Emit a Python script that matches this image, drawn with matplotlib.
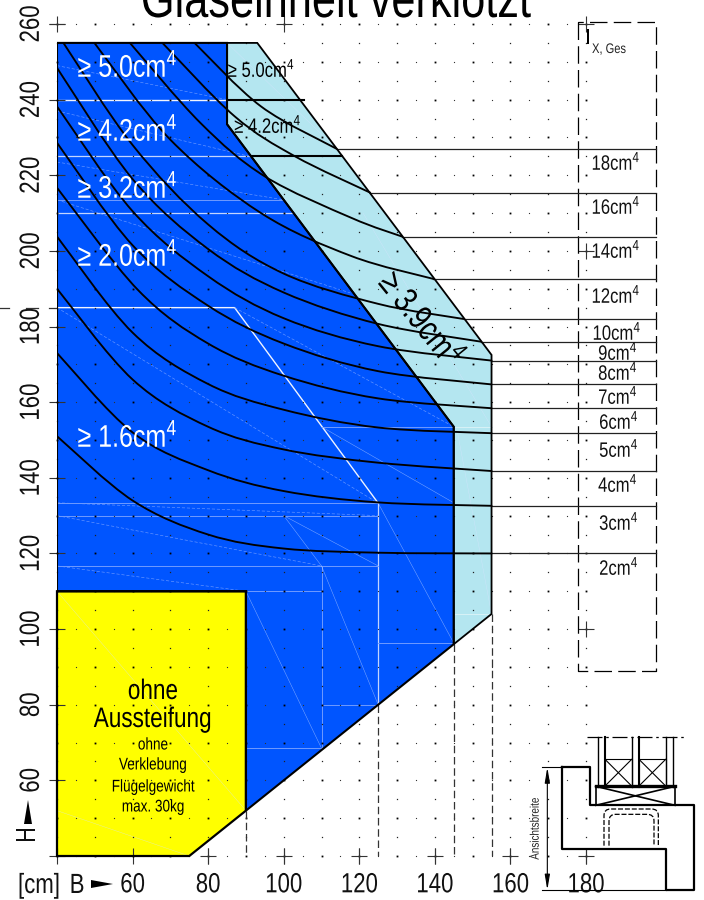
import matplotlib
matplotlib.use("Agg")
import matplotlib.pyplot as plt
import numpy as np
from matplotlib.path import Path
from matplotlib.patches import PathPatch, Polygon
from matplotlib.patheffects import AbstractPathEffect
from matplotlib.transforms import Affine2D

plt.rcParams["font.family"] = ["Liberation Sans", "DejaVu Sans"]
plt.rcParams["mathtext.fontset"] = "custom"
plt.rcParams["mathtext.rm"] = "Liberation Sans"
plt.rcParams["mathtext.default"] = "regular"

BLUE, LIGHT, YEL = "#0055ff", "#b4e6f0", "#ffff00"

x_ticks = [40, 60, 80, 100, 120, 140, 160, 180]
x_tick_labels = ["", "60", "80", "100", "120", "140", "160", "180"]
y_ticks = [40, 60, 80, 100, 120, 140, 160, 180, 200, 220, 240, 260]
y_tick_labels = ["", "60", "80", "100", "120", "140", "160", "180", "200", "220", "240", "260"]

yellow_area = [(40, 40), (75, 40), (90, 52), (90, 110), (40, 110)]
blue_area = [(40, 110), (90, 110), (90, 52), (145, 96), (145, 153.5), (85, 233.5), (85, 255), (40, 255)]
light_area = [(85, 255), (93, 255), (155, 172.5), (155, 104), (145, 96), (145, 153.5), (85, 233.5)]
step_lines = [[(85, 240), (105.5, 240)], [(91.4, 225), (115.4, 225)]]

curve_2 = [(40, 151), (60, 134), (80, 125), (100, 121.3), (125, 120.2), (155, 120)]
curve_3 = [(40, 173), (60, 152), (80, 142), (100, 136.5), (125, 133.5), (155, 132.6)]
curve_4 = [(40, 190), (60, 166), (80, 153.5), (100, 147.5), (125, 144), (155, 141.8)]
curve_5 = [(40, 203.8), (60, 178.4), (80, 164.8), (100, 158), (125, 153.3), (155, 151.8)]
curve_6 = [(40, 216.7), (61.4, 189.7), (80, 175.5), (100, 167), (125, 161), (155, 158.4)]
curve_7 = [(40, 228.6), (60, 201.5), (80, 185.5), (100, 175.5), (125, 168.2), (155, 164.7)]
curve_8 = [(40, 238.2), (60, 210.5), (80, 193.3), (100, 182.2), (125, 174.8), (155, 171)]
curve_9 = [(40, 248.4), (60, 219), (80, 200.5), (100, 189), (125, 180.7), (152.2, 176)]
curve_10 = [(41.7, 255), (60, 228), (80, 207), (100, 194), (125, 186), (147.6, 182)]
curve_12 = [(49.9, 255), (70, 229.4), (94, 210), (118, 198.6), (139.6, 192.6)]
curve_14 = [(59.3, 255), (78, 233.8), (95, 219.7), (118, 208.7), (131.3, 203.8)]
curve_16 = [(67.9, 255), (87, 235.6), (103, 225), (122.9, 215.4)]
curve_18 = [(76.4, 255), (94, 238.2), (114, 227)]
curves = [curve_2, curve_3, curve_4, curve_5, curve_6, curve_7, curve_8, curve_9, curve_10, curve_12, curve_14, curve_16, curve_18]

# label text and its pixel centre in the IX column
ix_labels = ["2", "3", "4", "5", "6", "7", "8", "9", "10", "12", "14", "16", "18"]
ix_label_px = [(619, 568), (619, 523), (618, 485), (619, 450), (619, 422), (618, 397), (618, 373), (618, 353), (617, 333), (616, 296), (616, 251), (616, 207), (616, 163)]

white_lines = [[(40, 240), (85, 240)], [(40, 185), (87, 185), (125, 133.3)]]
soft_lines = [[(40, 225), (91.4, 225)], [(40, 210), (102.6, 210)], [(125, 133.3), (125, 80)]]
pale_lines = [[(40, 133.4), (125, 133.4)], [(40, 130), (125, 130)], [(40, 116.7), (125, 116.7)],
              [(110, 116.7), (110, 68.5)], [(90, 68.5), (110, 68.5)], [(110, 80), (125, 80)], [(125, 96.3), (145, 96.3)],
              [(90, 110), (110, 110)], [(40, 213.5), (100, 213.5)], [(110, 153.5), (145, 153.5)]]
light_pale = [[(145, 153.5), (155, 153.5)], [(145, 104), (155, 104)]]
thin_lines = [[(125, 133.3), (145, 96.3)], [(100, 130), (110, 116.7)], [(100, 130), (125, 116.7)], [(110, 116.7), (125, 80)],
              [(90, 110), (110, 68.5)], [(110, 153.5), (145, 133.4)], [(146, 152), (155, 104)], [(85, 255), (114, 227)],
              [(121, 210), (155, 153.5)], [(40, 110), (90, 52)], [(40, 52), (75, 40)]]
dashed_thin = [[(40, 130), (110, 116.7)], [(40, 116.7), (90, 110)], [(40, 133.4), (125, 130)], [(87, 185), (145, 153.5)],
               [(40, 185), (125, 133.3)], [(40, 249), (85, 240)], [(40, 237), (91, 225)], [(40, 223.5), (100, 213.5)],
               [(40, 213.5), (117.6, 188.9)]]
drop_x = [90, 125, 145, 155]
drop_y = [52, 80, 96, 104]


class Squeeze(AbstractPathEffect):
    # the reference type is a narrow grotesque; no such font here, so condense along the baseline
    def __init__(self, sx):
        super().__init__()
        self.sx = sx

    def draw_path(self, renderer, gc, tpath, affine, rgbFace=None):
        e = tpath.get_extents()
        cx = (e.x0 + e.x1) / 2
        t = Affine2D().translate(-cx, 0).scale(self.sx, 1).translate(cx, 0) + affine
        renderer.draw_path(gc, tpath, t, rgbFace)


fig = plt.figure(figsize=(7.04, 9), dpi=100)
ax = fig.add_axes([57 / 704, 1 - 856 / 900, (586 - 57) / 704, (856 - 24) / 900])
ax.set_xlim(40, 180); ax.set_ylim(40, 260)
for s in ax.spines.values():
    s.set_visible(False)
ax.patch.set_alpha(0)
ax.set_xticks(x_ticks); ax.set_xticklabels(x_tick_labels, fontsize=20)
ax.set_yticks(y_ticks); ax.set_yticklabels(y_tick_labels, fontsize=20, rotation=90, va="center")
ax.tick_params(axis="both", direction="inout", length=11.5, width=0.8, color="#333333", labelcolor="#111111")
ax.tick_params(axis="x", pad=6); ax.tick_params(axis="y", pad=3)

# pixel helpers: reference pixels and the section drawing
pxt = Affine2D().scale(1 / 704, -1 / 900).translate(0, 1) + fig.transFigure
sect = Affine2D().scale(1 / 3).translate(530, 725) + pxt

ax.add_patch(Polygon(blue_area, closed=True, fc=BLUE, ec="none", zorder=1))
ax.add_patch(Polygon(light_area, closed=True, fc=LIGHT, ec="none", zorder=1))
ax.add_patch(Polygon(yellow_area, closed=True, fc=YEL, ec="none", zorder=1))


def xy(seg):
    a = np.array(seg)
    return a[:, 0], a[:, 1]


for seg in white_lines:
    ax.plot(*xy(seg), color="#f0f4ff", lw=1.0, zorder=1.5, clip_on=False)
for seg in soft_lines:
    ax.plot(*xy(seg), color="#c3d5ff", lw=0.9, zorder=1.5)
for seg in pale_lines:
    ax.plot(*xy(seg), color="#6f9bff", lw=0.7, zorder=1.5)
for seg in light_pale:
    ax.plot(*xy(seg), color="#d8f2f7", lw=0.7, zorder=1.5)
for seg in thin_lines:
    ax.plot(*xy(seg), color="#d8e4ff", lw=0.35, alpha=0.6, zorder=1.5)
for seg in dashed_thin:
    ax.plot(*xy(seg), color="#6a98ff", lw=0.45, ls=(0, (5, 3)), zorder=1.5)

# dot raster
gx5, gy10 = np.meshgrid(np.arange(45, 181, 10), np.arange(40, 261, 10))
ax.plot(gx5.ravel(), gy10.ravel(), ls="", marker="s", ms=0.8, mew=0, color="#333333", zorder=2, clip_on=False)
gx10, gy10b = np.meshgrid(np.arange(40, 181, 10), np.arange(40, 261, 10))
ax.plot(gx10.ravel(), gy10b.ravel(), ls="", marker="s", ms=1.3, mew=0, color="k", zorder=2, clip_on=False)
gx, gy5 = np.meshgrid(np.arange(40, 181, 10), np.arange(45, 256, 10))
ax.plot(gx.ravel(), gy5.ravel(), ls="", marker="s", ms=0.9, mew=0, color="#222222", zorder=2, clip_on=False)

# crosses on the raster
cross_x = [40, 100, 180, 180, 180, 80, 100, 120, 140, 160, 180]
cross_y = [260, 260, 260, 200, 100, 40, 40, 40, 40, 40, 40]
ax.plot(cross_x, cross_y, ls="", marker="+", ms=11.5, mew=0.8, color="#333333", zorder=3, clip_on=False)


def smooth_path(pts):
    # Catmull-Rom through the read points, handed to Path as Bezier segments
    p = np.array(pts, float)
    q = np.vstack([p[0], p, p[-1]])
    v, c = [tuple(p[0])], [Path.MOVETO]
    for i in range(1, len(q) - 2):
        v += [tuple(q[i] + (q[i + 1] - q[i - 1]) / 6), tuple(q[i + 1] - (q[i + 2] - q[i]) / 6), tuple(q[i + 1])]
        c += [Path.CURVE4] * 3
    return Path(v, c)


for pts in curves:
    ax.add_patch(PathPatch(smooth_path(pts), fc="none", ec="k", lw=1.35, zorder=4, capstyle="round"))
    ax.plot([pts[-1][0], 198.4], [pts[-1][1], pts[-1][1]], color="#222222", lw=0.9, zorder=3.5, clip_on=False)

# outlines
ax.add_patch(Polygon(light_area, closed=True, fc="none", ec="k", lw=1.3, zorder=5, joinstyle="miter"))
ax.add_patch(Polygon(blue_area, closed=True, fc="none", ec="k", lw=1.5, zorder=5, joinstyle="miter"))
ax.add_patch(Polygon(yellow_area, closed=True, fc="none", ec="k", lw=1.6, zorder=5, joinstyle="miter", clip_on=False))
for seg in step_lines:
    ax.plot(*xy(seg), color="k", lw=1.5, zorder=5)
for x, y in zip(drop_x, drop_y):
    ax.plot([x, x], [y, 40], color="#333333", lw=0.9, ls=(0, (6, 3)), zorder=3)

# stray tick at 185 on the left
for a, b in [(0, 9), (26, 38), (49, 57)]:
    ax.plot([a, b], [308, 308], color="#333333", lw=0.9, transform=pxt, clip_on=False, zorder=3)

# IX box
ix_left, ix_right, ix_top, ix_bottom = 177.9, 198.4, 260.5, 89
ax.plot([ix_left, ix_left, ix_right, ix_right, ix_left], [ix_top, ix_bottom, ix_bottom, ix_top, ix_top],
        color="k", lw=0.9, ls=(0, (14, 5)), clip_on=False, zorder=3)

# texts
fig.text(335.5, 17, "Glaseinheit verklotzt", fontsize=39, ha="center", va="baseline", color="k", transform=pxt)
for t, y in [("5.0", 77), ("4.2", 141), ("3.2", 198), ("2.0", 266), ("1.6", 447)]:
    ax.text(127.5, y, "≥ " + t + "cm$^{4}$", color="w", fontsize=22.5, ha="center", va="baseline", transform=pxt, zorder=6)
ax.text(261.5, 77, "≥ 5.0cm$^{4}$", color="k", fontsize=15, ha="center", va="baseline", transform=pxt, zorder=6)
ax.text(268, 133, "≥ 4.2cm$^{4}$", color="k", fontsize=15, ha="center", va="baseline", transform=pxt, zorder=6)
ax.text(420, 320, "≥ 3.9cm$^{4}$", color="k", fontsize=25, ha="center", va="center", rotation=-51, rotation_mode="anchor", transform=pxt, zorder=6)
for t, (px, py) in zip(ix_labels, ix_label_px):
    ax.text(px, py, t + "cm$^{4}$", color="#111111", fontsize=15, ha="center", va="center", transform=pxt, zorder=6)
ax.text(588, 38, "I", fontsize=15, ha="center", va="center", transform=pxt, zorder=6)
ax.text(609, 49, "X, Ges", fontsize=10, ha="center", va="center", color="#222222", transform=pxt, zorder=6)

ax.text(153, 692, "ohne", fontsize=20.3, ha="center", va="center", transform=pxt, zorder=6)
ax.text(153, 720, "Aussteifung", fontsize=20.3, ha="center", va="center", transform=pxt, zorder=6)
for t, y in [("ohne", 745), ("Verklebung", 765), ("Flügelgewicht", 787), ("max. 30kg", 807)]:
    ax.text(153, y, t, fontsize=12.2, ha="center", va="center", transform=pxt, zorder=6)

ax.text(39, 886, "[cm]", fontsize=20, ha="center", va="center", color="#111111", transform=pxt)
ax.text(77, 886, "B", fontsize=20, ha="center", va="center", color="#111111", transform=pxt)
ax.text(28, 835, "H", fontsize=20, ha="center", va="center", rotation=90, color="#111111", transform=pxt)
ax.add_patch(Polygon([(91, 880), (113, 884), (91, 888)], closed=True, fc="k", ec="none", transform=pxt, clip_on=False))
ax.add_patch(Polygon([(24, 824), (28, 800), (32, 824)], closed=True, fc="k", ec="none", transform=pxt, clip_on=False))

# window section drawing, coordinates on a 3x grid
LW = 1.6
def sline(xs, ys, lw=LW, **kw):
    ax.plot(xs, ys, color="k", lw=lw, transform=sect, clip_on=False, zorder=7, **kw)

sline([95, 180, 180, 492, 492, 407, 407, 95, 95], [127, 127, 241, 241, 495, 495, 373, 373, 127])
sline([35, 95], [127, 127], lw=0.8)
sline([35, 407], [495, 495], lw=0.8)
ax.annotate("", xy=(52, 127), xytext=(52, 495), xycoords=sect, textcoords=sect, annotation_clip=False, zorder=7,
            arrowprops=dict(arrowstyle="<|-|>,head_length=0.9,head_width=0.15", color="k", lw=0.8, shrinkA=0, shrinkB=0))
ax.text(17, 310, "Ansichtsbreite", fontsize=8.9, rotation=90, ha="center", va="center", color="#222222", transform=sect, zorder=7)
sline([170, 463], [35, 35], lw=0.9, ls=(0, (12, 3, 2, 3)))
for x, w in [(203, 1.0), (225, 1.5), (305, 1.0), (327, 1.5), (407, 1.0), (430, 1.0)]:
    sline([x, x], [35, 185], lw=w)
for x0, x1 in [(225, 305), (327, 407)]:
    sline([x0, x1, x1, x0, x0], [103, 103, 183, 183, 103], lw=0.8)
    sline([x0, x1], [103, 183], lw=0.8)
    sline([x0, x1], [183, 103], lw=0.8)
sline([197, 435], [184, 184], lw=2.4)
sline([197, 197, 435, 435, 197], [184, 241, 241, 184, 184], lw=1.2)
sline([197, 435], [184, 241], lw=1.2)
sline([197, 435], [241, 184], lw=1.2)
for l, r, top in [(222, 385, 252), (237, 372, 268)]:
    v = [(l, 362), (l, top + 20), (l, top), (l + 20, top), (r - 20, top), (r, top), (r, top + 20), (r, 362)]
    c = [Path.MOVETO, Path.LINETO, Path.CURVE3, Path.CURVE3, Path.LINETO, Path.CURVE3, Path.CURVE3, Path.LINETO]
    ax.add_patch(PathPatch(Path(v, c), fc="none", ec="k", lw=0.9, ls=(0, (4, 1.5)), transform=sect, clip_on=False, zorder=7))

# condense all type
for t in ax.texts + fig.texts + ax.get_xticklabels() + ax.get_yticklabels():
    t.set_path_effects([Squeeze(0.8)])

fig.savefig("out.png", dpi=100)
